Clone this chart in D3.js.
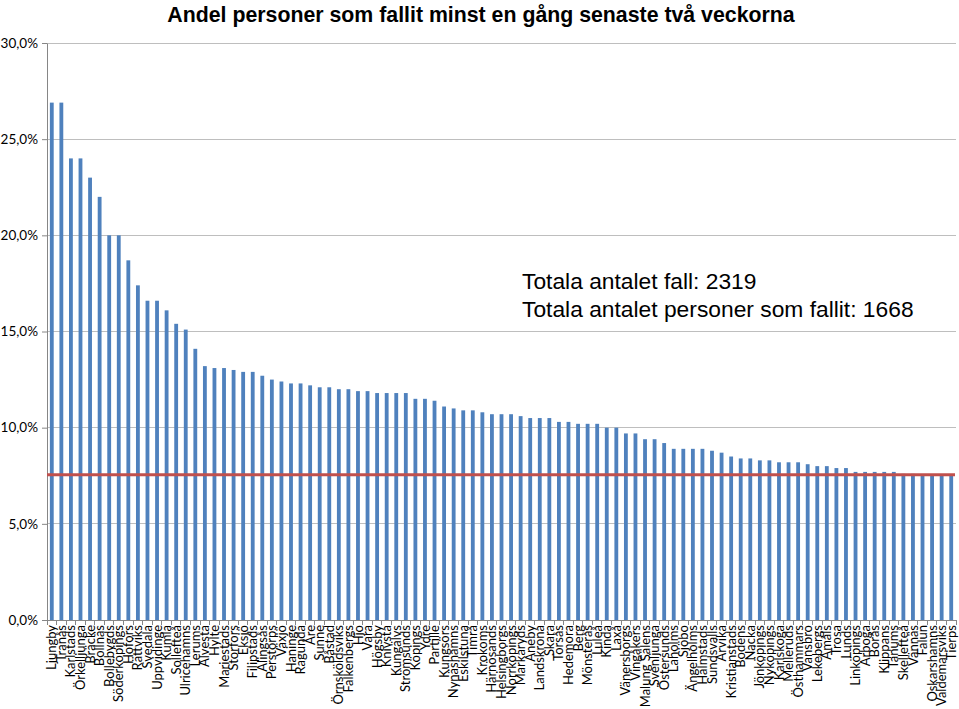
<!DOCTYPE html>
<html><head><meta charset="utf-8">
<script src="https://cdn.jsdelivr.net/npm/d3@7/dist/d3.min.js"></script>
<style>
html,body{margin:0;padding:0;background:#fff;}
svg{display:block;}
</style></head>
<body><svg id="chart" width="959" height="709"></svg>
<script>
const categories = ["Ljungby","Tranås","Karlstads","Örkelljunga","Bräcke","Bollnäs","Bollebygds","Söderköpings","Hofors","Rättviks",
"Svedala","Uppvidinge","Kumla","Sollefteå","Ulricehamns","Lerums","Alvesta","Hylte","Mariestads","Storfors",
"Eksjö","Filipstads","Alingsås","Perstorps","Växjö","Haninge","Ragunda","Åre","Sunne","Båstad",
"Örnsköldsviks","Falkenbergs","Hjo","Vara","Högsby","Knivsta","Kungälvs","Strömsunds","Köpings","Ydre",
"Partille","Kungsörs","Nynäshamns","Eskilstuna","Timrå","Krokoms","Härnösands","Helsingborgs","Norrköpings","Markaryds",
"Aneby","Landskrona","Skara","Torsås","Hedemora","Berg","Mönsterås","Luleå","Kinda","Laxå",
"Vänersborgs","Vingåkers","Malung Sälens","Svenljunga","Östersunds","Laholms","Sjöbo","Ängelholms","Halmstads","Sundsvalls",
"Arvika","Kristianstads","Bodens","Nacka","Jönköpings","Nyköpings","Karlskoga","Melleruds","Östhammars","Vansbro",
"Lekebergs","Åmåls","Trosa","Lunds","Linköpings","Arboga","Borås","Klippans","Tanums","Skellefteå",
"Vännäs","Falun","Oskarshamns","Valdemarsviks","Tierps"];
const values = [26.9,26.9,24.0,24.0,23.0,22.0,20.0,20.0,18.7,17.4,
16.6,16.6,16.1,15.4,15.1,14.1,13.2,13.1,13.1,13.0,
12.9,12.9,12.7,12.5,12.4,12.3,12.3,12.2,12.1,12.1,
12.0,12.0,11.9,11.9,11.8,11.8,11.8,11.8,11.5,11.5,
11.4,11.1,11.0,10.9,10.9,10.8,10.7,10.7,10.7,10.6,
10.5,10.5,10.5,10.3,10.3,10.2,10.2,10.2,10.0,10.0,
9.7,9.7,9.4,9.4,9.2,8.9,8.9,8.9,8.9,8.8,
8.7,8.5,8.4,8.4,8.3,8.3,8.2,8.2,8.2,8.1,
8.0,8.0,7.9,7.9,7.7,7.7,7.7,7.7,7.7,7.6,
7.6,7.55,7.55,7.55,7.55];
const yTicks = [0,5,10,15,20,25,30];
const averageValue = 7.55;
const titleText = "Andel personer som fallit minst en gång senaste två veckorna";
const noteLines = ["Totala antalet fall: 2319","Totala antalet personer som fallit: 1668"];

const svg = d3.select("#chart");
const L = 47, R = 956, T = 43, B = 620;
const x = d3.scaleBand().domain(categories).range([L, R]).paddingInner(0.6).paddingOuter(0.3);
const y = d3.scaleLinear().domain([0, 30]).range([B, T]);
const fmt = v => d3.format(".1f")(v).replace(".", ",") + "%";

// gridlines
svg.append("g").selectAll("line").data(yTicks.filter(d => d > 0)).join("line")
  .attr("x1", L).attr("x2", R).attr("y1", d => y(d)).attr("y2", d => y(d))
  .attr("stroke", "#BEBEBE").attr("stroke-width", 1).attr("shape-rendering", "crispEdges");

// y axis
const yAxis = d3.axisLeft(y).tickValues(yTicks).tickFormat(fmt).tickSize(5).tickSizeOuter(0);
const gy = svg.append("g").attr("transform", `translate(${L},0)`).call(yAxis);
gy.select(".domain").attr("stroke", "#868686");
gy.selectAll(".tick line").attr("stroke", "#868686");
gy.selectAll(".tick text").attr("font-family", "Lato, 'Open Sans', sans-serif").attr("font-size", "13.5px").attr("fill", "#000").attr("x", -9);

// bars
svg.append("g").selectAll("rect").data(categories).join("rect")
  .attr("x", d => x(d)).attr("width", x.bandwidth())
  .attr("y", (d, i) => y(values[i])).attr("height", (d, i) => y(0) - y(values[i]))
  .attr("fill", "#4F81BD");

// x axis line and boundary ticks
const step = x.step();
const gx = svg.append("g");
gx.append("line").attr("x1", L).attr("x2", R).attr("y1", B).attr("y2", B)
  .attr("stroke", "#868686").attr("shape-rendering", "crispEdges");
const bounds = categories.map(c => x(c) + x.bandwidth() / 2 - step / 2).concat([x(categories[categories.length-1]) + x.bandwidth()/2 + step/2]);
gx.selectAll("line.t").data(bounds).join("line").attr("class", "t")
  .attr("x1", d => d).attr("x2", d => d).attr("y1", B).attr("y2", B + 5)
  .attr("stroke", "#868686").attr("shape-rendering", "crispEdges");
gx.selectAll("text").data(categories).join("text")
  .attr("transform", d => `translate(${x(d) + x.bandwidth() / 2},${B + 5}) rotate(-90)`)
  .attr("text-anchor", "end").attr("dy", "0.35em")
  .attr("font-family", "Lato, 'Open Sans', sans-serif").attr("font-size", "13px").attr("fill", "#000")
  .text(d => d);

// average line
svg.append("line").attr("x1", L).attr("x2", R - 1).attr("y1", y(averageValue)).attr("y2", y(averageValue))
  .attr("stroke", "#C0504D").attr("stroke-width", 3);

// title
svg.append("text").attr("x", 481).attr("y", 22).attr("text-anchor", "middle")
  .attr("font-family", "'Liberation Sans', Arial, sans-serif").attr("font-weight", "bold").attr("font-size", "21.3px")
  .text(titleText);

// note
svg.append("g").selectAll("text").data(noteLines).join("text")
  .attr("x", 522).attr("y", (d, i) => 289 + i * 28)
  .attr("font-family", "'Liberation Sans', Arial, sans-serif").attr("font-size", "22.8px").attr("fill", "#000")
  .text(d => d);
</script></body></html>
